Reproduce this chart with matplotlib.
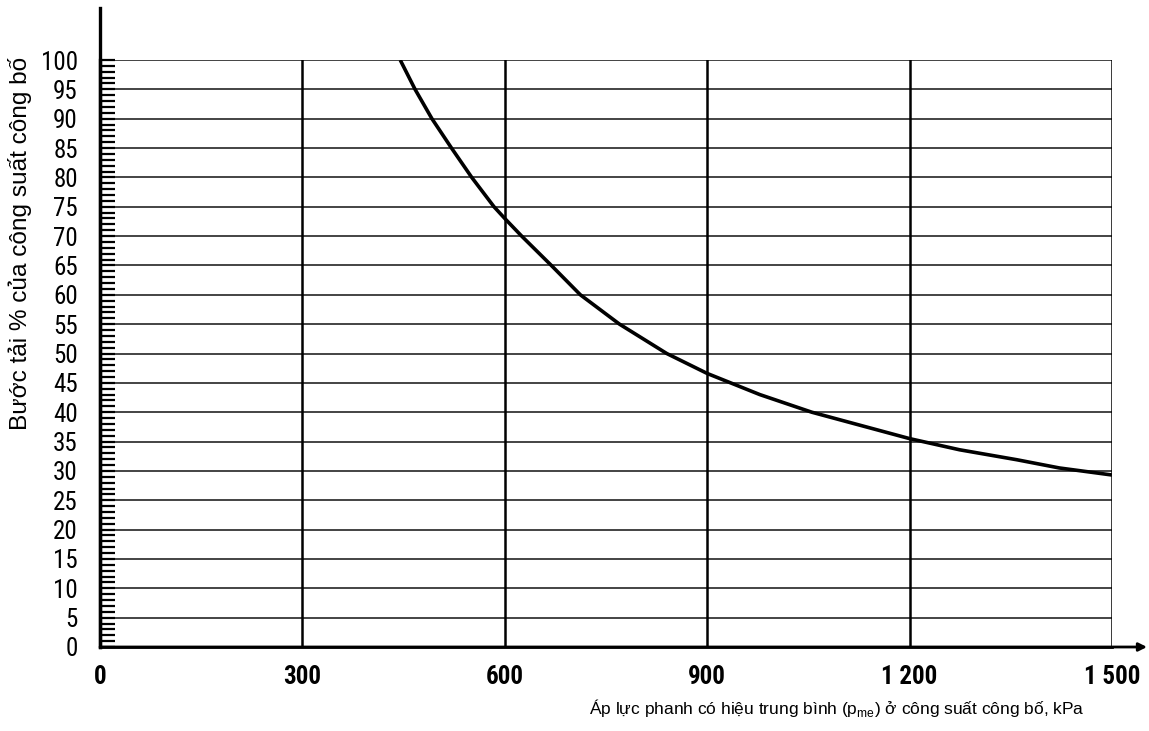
import matplotlib
matplotlib.use("Agg")
import matplotlib.pyplot as plt
from matplotlib.lines import Line2D
from matplotlib import font_manager

# ---- data ----
pressure_kpa = [445, 467, 492, 521, 551, 584, 600, 625, 669, 712, 770, 840,
                900, 978, 1055, 1200, 1274, 1359, 1422, 1500]
load_step_pct = [100, 95, 90, 85, 80, 75, 73, 70, 65, 60, 55, 50,
                 46.6, 43, 40, 35.5, 33.6, 31.9, 30.5, 29.3]
x_ticks = [0, 300, 600, 900, 1200, 1500]
x_tick_labels = ["0", "300", "600", "900", "1 200", "1 500"]
y_ticks = list(range(0, 101, 5))
y_tick_labels = [str(v) for v in y_ticks]
x_label = "Áp lực phanh có hiệu trung bình (p$_{\\mathregular{me}}$) ở công suất công bố, kPa"
y_label = "Bước tải % của công suất công bố"

# ---- choose a condensed font for tick labels if one is installed ----
entries = font_manager.fontManager.ttflist
names = {f.name for f in entries}
tick_family, tick_stretch, tick_size = "DejaVu Sans", "normal", 15
cond = None
for want in ["Liberation Sans Narrow", "DejaVu Sans Condensed", "Roboto Condensed",
             "Open Sans Condensed", "Noto Sans Condensed"]:
    if want in names:
        cond = (want, "normal")
        break
if cond is None:
    for fam in ["DejaVu Sans", "Noto Sans", "Roboto", "Open Sans", "Liberation Sans"]:
        if any(f.name == fam and str(f.stretch) in ("condensed", "semi-condensed", "75", "87.5", "625")
               for f in entries):
            cond = (fam, "condensed")
            break
if cond is not None:
    tick_family, tick_stretch, tick_size = cond[0], cond[1], 18
regular = "Liberation Sans" if "Liberation Sans" in names else "DejaVu Sans"

W, H = 1149, 731
fig = plt.figure(figsize=(W / 100, H / 100), dpi=100)
left, right, top, bottom = 100, 1112, 60, 647
ax = fig.add_axes([left / W, 1 - bottom / H, (right - left) / W, (bottom - top) / H])

ax.set_xlim(0, 1500)
ax.set_ylim(0, 100)

# grid lines
for v in y_ticks[1:]:
    ax.axhline(v, color="#111111", lw=1.1, zorder=1)
for v in x_ticks[1:]:
    ax.axvline(v, color="black", lw=1.8, zorder=1)

# curve
ax.plot(pressure_kpa, load_step_pct, color="black", lw=2.6, zorder=3,
        solid_capstyle="butt", solid_joinstyle="round")

# spines
for s in ["top", "right"]:
    ax.spines[s].set_visible(False)
ax.spines["left"].set_linewidth(2.4)
ax.spines["bottom"].set_linewidth(2.0)

# extend left spine upward
ax.add_line(Line2D([0, 0], [0, (bottom - 8) / (bottom - top)], transform=ax.transAxes,
                   color="black", lw=2.4, clip_on=False))
# extend bottom axis with arrow
ax.annotate("", xy=((W - 2 - left) / (right - left), 0), xytext=(0, 0),
            xycoords="axes fraction", textcoords="axes fraction",
            arrowprops=dict(arrowstyle="-|>", color="black", lw=2.0,
                            mutation_scale=12, shrinkA=0, shrinkB=0),
            annotation_clip=False)

# ticks
ax.set_yticks(y_ticks)
ax.set_yticklabels(y_tick_labels, fontfamily=tick_family, fontstretch=tick_stretch,
                   fontsize=tick_size)
ax.set_yticks(list(range(0, 101, 1)), minor=True)
ax.tick_params(axis="y", which="both", direction="in", length=11, width=1.6,
               pad=16)
ax.set_xticks(x_ticks)
ax.set_xticklabels(x_tick_labels, fontfamily=tick_family, fontstretch=tick_stretch,
                   fontsize=tick_size, fontweight="semibold")
ax.tick_params(axis="x", which="both", length=0, pad=13)
for lbl in ax.get_xticklabels():
    if lbl.get_text() == "1 500":
        lbl.set_horizontalalignment("center")

# axis labels
fig.text(1085 / W, 1 - 708 / H, x_label, ha="right", va="center",
         fontfamily=regular, fontsize=12.5)
fig.text(20 / W, 1 - 243 / H, y_label, ha="center", va="center", rotation=90,
         fontfamily=regular, fontsize=17.6)

fig.savefig("out.png", dpi=100)
